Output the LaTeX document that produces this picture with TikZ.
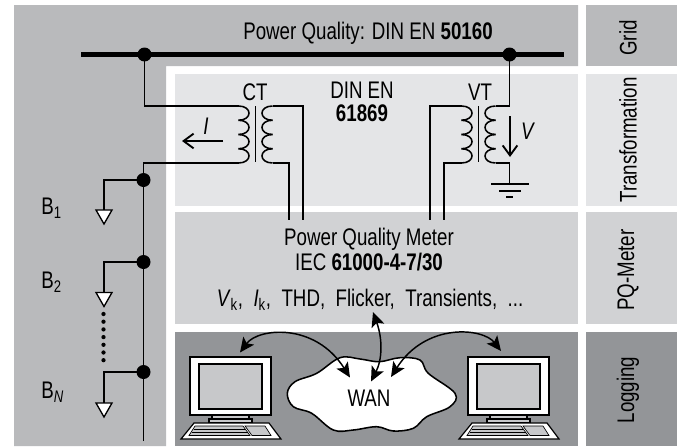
\documentclass[tikz,border=0pt]{standalone}
\usepackage{fontspec}
\setmainfont[FakeStretch=0.78]{Liberation Sans}
\usetikzlibrary{arrows.meta}
\definecolor{gridgray}{HTML}{B9BABC}
\definecolor{trafogray}{HTML}{E4E5E7}
\definecolor{metergray}{HTML}{D1D2D4}
\definecolor{loggray}{HTML}{939598}
\definecolor{screengray}{HTML}{C7C8CA}
\tikzset{
	wire/.style={line width=1.15pt,black},
	bus/.style={line width=3.8pt,black},
	dot/.style={circle,fill=black,inner sep=0pt,minimum size=10.5pt},
	lbl/.style={inner sep=0pt,align=center,font=\fontsize{18}{16}\selectfont},
	load/.style={line width=1pt,fill=white},
	barb/.style={line width=1.4pt,-{Straight Barb[length=7.5pt,width=11pt,line width=1.4pt]}},
	link/.style={line width=1.1pt,{Stealth[length=11pt,width=10pt,inset=2.5pt]}-{Stealth[length=11pt,width=10pt,inset=2.5pt]}}
}
% Transformer: core at x = #2, coil ends are named after #1
\newcommand{\drawxfmr}[2]{
	\begin{scope}[shift={(#2,0)}]
		\draw[wire] (0,106) -- (0,162);
		\foreach \ya/\yb in {106/120.25,120.25/134.5,134.5/148.75,148.75/163}{
			\draw[wire] (-17,\ya) .. controls (-3,\ya) and (-3,\yb) .. (-17,\yb);
			\draw[wire] (17,\ya) .. controls (3,\ya) and (3,\yb) .. (17,\yb);
		}
		\coordinate (#1tl) at (-17,106);
		\coordinate (#1bl) at (-17,163);
		\coordinate (#1tr) at (17,106);
		\coordinate (#1br) at (17,163);
	\end{scope}
}
% Computer: same drawing, shifted by #1
\newcommand{\drawcomputer}[1]{
	\begin{scope}[shift={(#1,0)}]
		\draw[line width=1.5pt,fill=white] (190,357) rectangle (271,415);
		\draw[line width=1.3pt,fill=screengray] (199,364) rectangle (262,409);
		\draw[line width=0.9pt,fill=screengray] (212,415) rectangle (249,419);
		\draw[line width=0.9pt,fill=screengray] (209,419) rectangle (252,423);
		\draw[line width=0.9pt,fill=white] (194,423) -- (269,423) -- (281,439) -- (181,439) -- cycle;
		\draw[line width=0.5pt,fill=screengray] (195,426) -- (243,426) -- (250,435.5) -- (189,435.5) -- cycle;
		\draw[line width=0.5pt] (193.5,429) -- (245,429);
		\draw[line width=0.5pt] (191.5,432) -- (247.5,432);
		\draw[line width=0.5pt,fill=screengray] (245,426) -- (265,426) -- (271,435.5) -- (252,435.5) -- cycle;
	\end{scope}
}
\begin{document}
\begin{tikzpicture}[x=0.75pt,y=-0.75pt]
	\useasboundingbox (0,0) rectangle (677,446);
	
	% Panels
	\fill[gridgray] (14,5) -- (578,5) -- (578,66) -- (166,66) -- (166,446) -- (14,446) -- cycle;
	\fill[trafogray] (175,74) rectangle (578,206);
	\fill[metergray] (175,212) rectangle (578,324);
	\fill[loggray] (175,332) rectangle (578,446);
	\fill[gridgray] (586,5) rectangle (677,66);
	\fill[trafogray] (586,74) rectangle (677,206);
	\fill[metergray] (586,212) rectangle (677,324);
	\fill[loggray] (586,332) rectangle (677,446);
	
	% Layer names
	\node[lbl,rotate=90] (gridname) at (628,38) {Grid};
	\node[lbl,rotate=90] (trafoname) at (628,140) {Transformation};
	\node[lbl,rotate=90] (metername) at (628,270) {PQ-Meter};
	\node[lbl,rotate=90] (logname) at (628,390) {Logging};
	
	% Bus and junctions
	\coordinate (busleft) at (81,54.5);
	\coordinate (busright) at (564,54.5);
	\draw[bus] (busleft) -- (busright);
	\node[dot] (ctjoin) at (144.5,54.5) {};
	\node[dot] (vtjoin) at (509.5,54.5) {};
	\node[dot] (loadone) at (143.5,180) {};
	\node[dot] (loadtwo) at (143.5,262) {};
	\node[dot] (loadn) at (143.5,372) {};
	
	% Transformers
	\drawxfmr{ct}{255.5}
	\drawxfmr{vt}{478.5}
	\coordinate (ctmetera) at (289,220);
	\coordinate (ctmeterb) at (303,220);
	\coordinate (vtmetera) at (430,220);
	\coordinate (vtmeterb) at (444,220);
	\coordinate (feedend) at (143.5,441);
	\coordinate (gnd) at (509.5,184);
	
	% Wires
	\draw[wire] (ctjoin.center) |- (cttl);
	\draw[wire] (feedend) -- (143.5,163) -- (ctbl);
	\draw[wire] (cttr) -| (ctmeterb);
	\draw[wire] (ctbr) -| (ctmetera);
	\draw[wire] (vtjoin.center) |- (vttr);
	\draw[wire] (vtbr) -| (gnd);
	\draw[wire] (vttl) -| (vtmetera);
	\draw[wire] (vtbl) -| (vtmeterb);
	
	% Ground
	\draw[wire] (491,184) -- (529,184);
	\draw[wire] (499,191) -- (521,191);
	\draw[wire] (506,197) -- (513,197);
	
	% Loads
	\coordinate (tipone) at (104,210);
	\coordinate (tiptwo) at (104,292.5);
	\coordinate (tipn) at (104,403);
	\draw[wire] (loadone.center) -| (tipone);
	\draw[wire] (loadtwo.center) -| (tiptwo);
	\draw[wire] (loadn.center) -| (tipn);
	\foreach \y in {210,292.5,403}{
		\draw[load] (96,\y) -- (112,\y) -- (104,\y+14) -- cycle;
	}
	\foreach \y in {314,321.7,...,361}{
		\fill (103.5,\y) circle (1.6pt);
	}
	\node[lbl,anchor=west] (bone) at (41,208) {B\textsubscript{1}};
	\node[lbl,anchor=west] (btwo) at (41,282) {B\textsubscript{2}};
	\node[lbl,anchor=west] (bn) at (41,392) {B\textsubscript{\textit{N}}};
	
	% Measured quantities
	\coordinate (ifrom) at (223,141);
	\coordinate (ito) at (182,141);
	\coordinate (vfrom) at (510,116);
	\coordinate (vto) at (510,157);
	\draw[barb] (ifrom) -- (ito);
	\draw[barb] (vfrom) -- (vto);
	\node[lbl] (ilabel) at (206,126) {\textit{I}};
	\node[lbl] (vlabel) at (528,131) {\textit{V}};
	
	% Texts
	\node[lbl] (pqtitle) at (368,33) {Power Quality: DIN EN \textbf{50160}};
	\node[lbl] (ctname) at (255,92) {CT};
	\node[lbl] (vtname) at (480,92) {VT};
	\node[lbl] (din) at (362,102) {DIN EN\\[1.5pt]\textbf{61869}};
	\node[lbl] (metertitle) at (369,249.5) {Power Quality Meter\\[1.5pt]IEC \textbf{61000-4-7/30}};
	\node[lbl] (values) at (370,300) {\textit{V}\textsubscript{k},~~\textit{I}\textsubscript{k},~~THD,~~Flicker,~~Transients,~~...};
	
	% Logging
	\drawcomputer{0}
	\drawcomputer{278}
	\draw[wire,fill=white] plot[smooth cycle,tension=0.6] coordinates {(287.3,393.3) (295,381.7) (316.7,373.3) (340,357.7) (360,359) (379.3,361.7) (400,357.7) (420,360) (428.3,373.3) (455,393.3) (450,406.7) (426.7,416.7) (413.3,428.3) (393.3,431) (376.7,426.7) (353.3,430) (333.3,430) (311.7,413.3) (293.3,406.7)};
	\node[lbl] (wan) at (369,398) {WAN};
	\coordinate (pcleft) at (240,352.5);
	\coordinate (wanleft) at (350,377.5);
	\coordinate (wanmid) at (371,381.5);
	\coordinate (wanright) at (391,377);
	\coordinate (pcright) at (501,351);
	\coordinate (meterport) at (373,312);
	\draw[link] (pcleft) .. controls (258,328) and (315,322) .. (wanleft);
	\draw[link] (wanright) .. controls (426,322) and (483,328) .. (pcright);
	\draw[link] (wanmid) .. controls (382,360) and (383,340) .. (meterport);
\end{tikzpicture}
\end{document}
